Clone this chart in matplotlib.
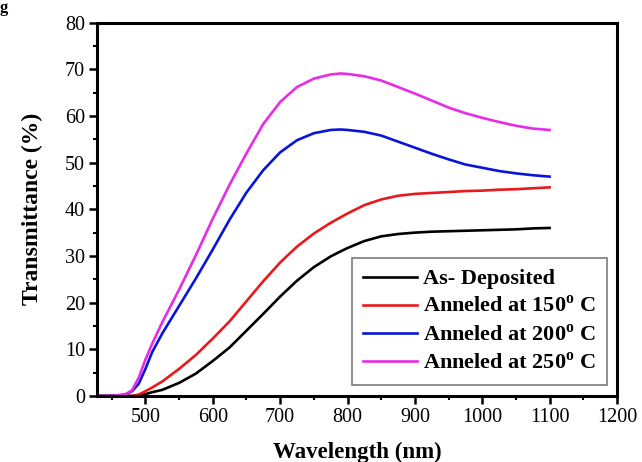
import numpy as np
import matplotlib
matplotlib.use('Agg')
from matplotlib import pyplot as plt

plt.rcParams['font.family'] = 'Liberation Serif'
plt.rcParams['mathtext.fontset'] = 'custom'
plt.rcParams['mathtext.bf'] = 'Liberation Serif:bold'
plt.rcParams['mathtext.rm'] = 'Liberation Serif:bold'

# wavelength (nm) and transmittance (%)
wl = [428, 450, 470, 480, 490, 500, 510, 525, 550, 575, 600, 625, 650, 675, 700,
      725, 750, 775, 790, 800, 825, 850, 875, 900, 925, 950, 975, 1000, 1025,
      1050, 1075, 1100]

as_dep = [0, 0, 0, 0, 0.1, 0.4, 0.8, 1.3, 2.8, 4.8, 7.5, 10.4, 14.0, 17.6, 21.3,
          24.7, 27.6, 29.9, 31.0, 31.7, 33.2, 34.2, 34.7, 35.0, 35.2, 35.3, 35.4,
          35.5, 35.6, 35.7, 35.9, 36.0]
ann150 = [0, 0, 0, 0, 0.3, 1.0, 1.8, 3.1, 5.8, 8.8, 12.3, 16.0, 20.3, 24.6, 28.6,
          32.0, 34.8, 37.1, 38.3, 39.1, 40.9, 42.1, 42.9, 43.3, 43.5, 43.7, 43.9,
          44.0, 44.2, 44.3, 44.5, 44.7]
ann200 = [0, 0, 0.3, 1.0, 2.6, 5.8, 9.4, 13.4, 19.3, 25.2, 31.4, 37.8, 43.6, 48.4, 52.2,
          54.8, 56.3, 57.0, 57.1, 57.0, 56.6, 55.8, 54.5, 53.2, 51.9, 50.7, 49.6,
          48.9, 48.2, 47.7, 47.3, 47.0]
ann250 = [0, 0, 0.3, 1.2, 3.9, 7.8, 11.2, 15.8, 22.8, 30.2, 38.0, 45.3, 52.0, 58.3, 63.0,
          66.2, 68.0, 68.9, 69.1, 69.0, 68.5, 67.6, 66.2, 64.8, 63.3, 61.8, 60.6,
          59.6, 58.7, 57.9, 57.3, 57.0]

labels = ['As- Deposited', r'Anneled at 150$^{\mathbf{o}}$ C',
          r'Anneled at 200$^{\mathbf{o}}$ C', r'Anneled at 250$^{\mathbf{o}}$ C']
colors = ['black', '#e8191c', '#0a14d8', '#e62ce6']

fig = plt.figure(figsize=(6.42, 4.62), dpi=100)
ax = fig.add_axes([0.151, 0.143, 0.81, 0.808])

for series, lab, col in zip([as_dep, ann150, ann200, ann250], labels, colors):
    ax.plot(wl, series, color=col, lw=1.9, label=lab)

ax.set_xlim(428, 1200)
ax.set_ylim(0, 80)
ax.set_xticks(np.arange(500, 1201, 100))
ax.set_xticks(np.arange(450, 1200, 50), minor=True)
ax.set_yticks(np.arange(0, 81, 10))
ax.set_yticks(np.arange(5, 80, 10), minor=True)
ax.tick_params(which='major', direction='out', length=5.5, width=1.8, labelsize=14.5,
               pad=3, top=False, right=False)
ax.tick_params(which='minor', direction='out', length=3, width=1.5,
               top=False, right=False)
for s in ax.spines.values():
    s.set_linewidth(2.2)

ax.set_xlabel('Wavelength (nm)', fontsize=16.5, fontweight='bold', labelpad=11)
ax.set_ylabel('Transmittance (%)', fontsize=17, fontweight='bold', labelpad=16)

leg = ax.legend(loc='lower right', bbox_to_anchor=(0.981, 0.03), borderaxespad=0,
                prop={'weight': 'bold', 'size': 16}, handlelength=2.4,
                handletextpad=0.3, labelspacing=0.3, borderpad=0.5,
                fancybox=False, framealpha=1)
leg.get_frame().set_edgecolor('#707070')
leg.get_frame().set_linewidth(1.1)

fig.text(0.0, 1.0, 'g', fontsize=12, fontweight='bold', ha='left', va='top')

fig.savefig('out.png', dpi=100)
